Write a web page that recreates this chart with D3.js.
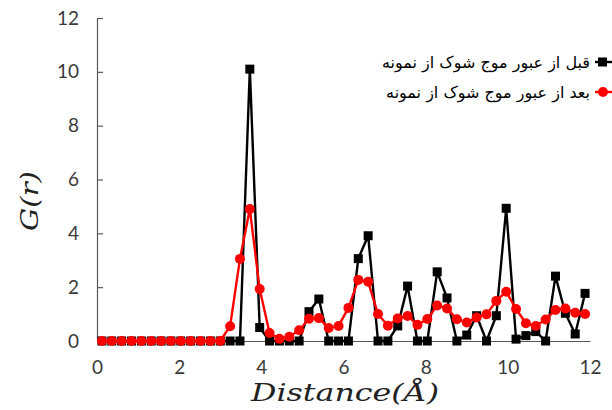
<!DOCTYPE html>
<html>
<head>
<meta charset="utf-8">
<script src="https://cdn.jsdelivr.net/npm/d3@7"></script>
<style>
  html, body { margin: 0; padding: 0; background: #fff; }
  svg { display: block; }
</style>
</head>
<body>
<svg id="chart" width="612" height="410"></svg>
<script>
const distance = [0.12,0.36,0.60,0.84,1.08,1.32,1.56,1.80,2.04,2.28,
  2.52,2.76,3.00,3.24,3.48,3.72,3.96,4.20,4.44,4.68,
  4.92,5.16,5.40,5.64,5.88,6.12,6.36,6.60,6.84,7.08,
  7.32,7.56,7.80,8.04,8.28,8.52,8.76,9.00,9.24,9.48,
  9.72,9.96,10.20,10.44,10.68,10.92,11.16,11.40,11.64,11.88];
const gBefore = [0,0,0,0,0,0,0,0,0,0,
  0,0,0,0,0,10.1,0.5,0,0,0,
  0,1.09,1.56,0,0,0,3.06,3.91,0,0,
  0.56,2.04,0,0,2.57,1.6,0,0.22,0.94,0,
  0.94,4.93,0.07,0.2,0.35,0,2.41,1.03,0.26,1.77];
const gAfter = [0,0,0,0,0,0,0,0,0,0,
  0,0,0,0.55,3.05,4.9,1.93,0.3,0.08,0.16,
  0.4,0.83,0.85,0.48,0.56,1.23,2.27,2.2,1.0,0.57,
  0.84,0.93,0.6,0.82,1.32,1.21,0.81,0.69,0.87,0.99,
  1.49,1.83,1.19,0.66,0.56,0.8,1.15,1.21,1.05,1.0];
const xTicks = [0,2,4,6,8,10,12];
const yTicks = [0,2,4,6,8,10,12];
const seriesNames = ["قبل از عبور موج شوک از نمونه", "بعد از عبور موج شوک از نمونه"];

const svg = d3.select("#chart");
const x = d3.scaleLinear().domain([0,12]).range([97,590]);
const y = d3.scaleLinear().domain([0,12]).range([341,18]);
const axisColor = "#595959";
const tickFont = "Lato, 'Open Sans', sans-serif";

// Y axis (ticks inward)
const yAxis = d3.axisLeft(y).tickValues(yTicks).tickSize(-6).tickPadding(18).tickSizeOuter(0);
const gy = svg.append("g").attr("transform", `translate(${x(0)},0)`).call(yAxis);
gy.select(".domain").attr("stroke", axisColor).attr("stroke-width", 1.2);
gy.selectAll(".tick line").attr("stroke", axisColor).attr("stroke-width", 1.2)
  .filter(d => d === 0).remove();
gy.selectAll(".tick text").attr("font-family", tickFont).attr("font-size", 19)
  .attr("fill", "#3a3a3a");

// X axis (no ticks)
const xAxis = d3.axisBottom(x).tickValues(xTicks).tickSize(0).tickPadding(20).tickSizeOuter(0);
const gx = svg.append("g").attr("transform", `translate(0,${y(0)})`).call(xAxis);
gx.select(".domain").attr("stroke", axisColor).attr("stroke-width", 1.2);
gx.selectAll(".tick text").attr("font-family", tickFont).attr("font-size", 19)
  .attr("fill", "#3a3a3a");

// Axis titles
svg.append("text").attr("x", 345).attr("y", 401).attr("text-anchor", "middle")
  .attr("font-family", "'DejaVu Serif', serif").attr("font-style", "italic")
  .attr("font-size", 25).attr("fill", "#222")
  .attr("textLength", 188).attr("lengthAdjust", "spacingAndGlyphs").text("Distance(Å)");
svg.append("text").attr("transform", "translate(38,201) rotate(-90)")
  .attr("text-anchor", "middle")
  .attr("font-family", "'DejaVu Serif', serif").attr("font-style", "italic")
  .attr("font-size", 25).attr("fill", "#222")
  .attr("textLength", 60).attr("lengthAdjust", "spacingAndGlyphs").text("G(r)");

const line = d3.line().x((d,i) => x(distance[i])).y(d => y(d));

// Black series
svg.append("path").datum(gBefore).attr("d", line)
  .attr("fill", "none").attr("stroke", "#000").attr("stroke-width", 2.4)
  .attr("stroke-linejoin", "round");
svg.append("g").selectAll("rect").data(gBefore).join("rect")
  .attr("x", (d,i) => x(distance[i]) - 4.5).attr("y", d => y(d) - 4.5)
  .attr("width", 9).attr("height", 9).attr("fill", "#000");

// Red series
svg.append("path").datum(gAfter).attr("d", line)
  .attr("fill", "none").attr("stroke", "#ff0000").attr("stroke-width", 2.4)
  .attr("stroke-linejoin", "round");
svg.append("g").selectAll("circle").data(gAfter).join("circle")
  .attr("cx", (d,i) => x(distance[i])).attr("cy", d => y(d))
  .attr("r", 5).attr("fill", "#ff0000");

// Legend
const legend = svg.append("g");
const legY = [62, 92];
legend.append("line").attr("x1", 595).attr("x2", 612).attr("y1", legY[0]).attr("y2", legY[0])
  .attr("stroke", "#000").attr("stroke-width", 2.4);
legend.append("rect").attr("x", 598).attr("y", legY[0]-4.5).attr("width", 9).attr("height", 9).attr("fill", "#000");
legend.append("line").attr("x1", 595).attr("x2", 612).attr("y1", legY[1]).attr("y2", legY[1])
  .attr("stroke", "#ff0000").attr("stroke-width", 2.4);
legend.append("circle").attr("cx", 603).attr("cy", legY[1]).attr("r", 5).attr("fill", "#ff0000");
legend.selectAll("text").data(seriesNames).join("text")
  .attr("x", 590).attr("y", (d,i) => legY[i] + 6).attr("text-anchor", "end")
  .attr("font-family", "'DejaVu Sans', sans-serif").attr("font-size", 16)
  .attr("fill", "#000").text(d => d);
</script>
</body>
</html>
